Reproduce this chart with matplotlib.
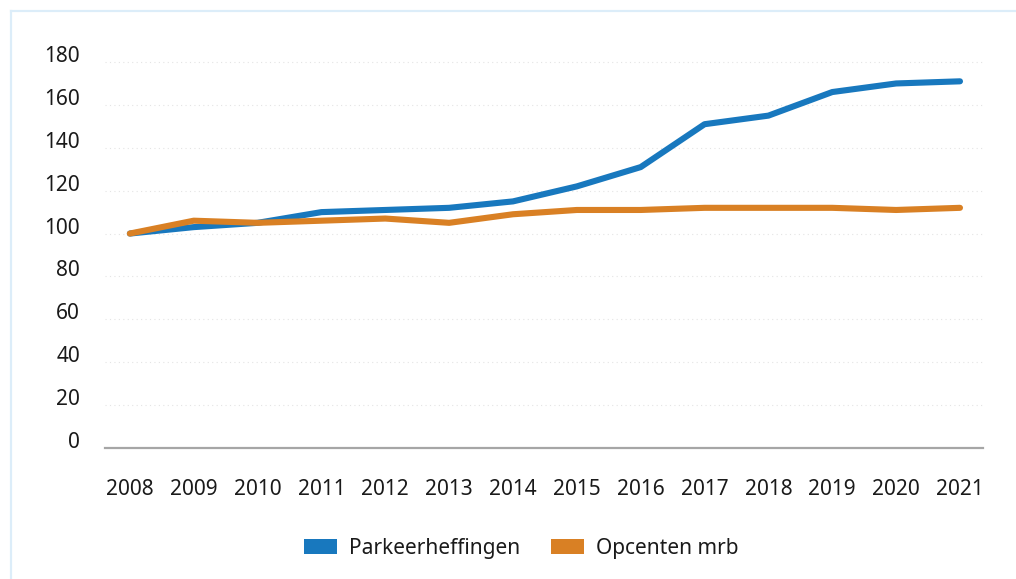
import matplotlib
matplotlib.use("Agg")
import matplotlib.pyplot as plt
from matplotlib.lines import Line2D
from matplotlib.patches import Patch

years = [2008, 2009, 2010, 2011, 2012, 2013, 2014, 2015, 2016, 2017, 2018, 2019, 2020, 2021]
parkeerheffingen = [100, 103, 105, 110, 111, 112, 115, 122, 131, 151, 155, 166, 170, 171]
opcenten_mrb = [100, 106, 105, 106, 107, 105, 109, 111, 111, 112, 112, 112, 111, 112]
y_ticks = [0, 20, 40, 60, 80, 100, 120, 140, 160, 180]

BLUE = "#1878be"
ORANGE = "#d98024"
TEXT = "#1a1a1a"

plt.rcParams["font.family"] = ["Noto Sans", "DejaVu Sans"]

fig = plt.figure(figsize=(10.16, 5.79), dpi=100, facecolor="white")

# light blue frame, top and left edge
border = "#dcedf9"
fig.add_artist(Line2D([11 / 1016, 11 / 1016], [0, 1 - 11 / 579], color=border, lw=1.6))
fig.add_artist(Line2D([11 / 1016, 1], [1 - 11 / 579, 1 - 11 / 579], color=border, lw=1.6))

ax = fig.add_axes([0.1033, 0.2263, 0.8642, 0.6851])
ax.plot(years, parkeerheffingen, color=BLUE, lw=4.4, solid_capstyle="round",
        solid_joinstyle="round", zorder=3)
ax.plot(years, opcenten_mrb, color=ORANGE, lw=4.4, solid_capstyle="round",
        solid_joinstyle="round", zorder=4)

ax.set_xlim(2008 - 0.39, 2021 + 0.36)
ax.set_ylim(0, 185)
ax.set_yticks(y_ticks)
ax.set_xticks(years)
ax.set_xticklabels([str(y) for y in years])

for side in ("top", "right", "left"):
    ax.spines[side].set_visible(False)
ax.spines["bottom"].set_color("#a6a6a6")
ax.spines["bottom"].set_linewidth(1.6)

ax.yaxis.grid(True, color="#e4e4e4", linestyle=(0, (1, 3)), linewidth=0.8)
ax.set_axisbelow(True)
ax.tick_params(axis="both", length=0, labelsize=15, labelcolor=TEXT)
ax.tick_params(axis="y", pad=18)
ax.tick_params(axis="x", pad=22)
for lbl in ax.get_yticklabels():
    lbl.set_verticalalignment("baseline")

handles = [Patch(facecolor=BLUE, edgecolor="none", label="Parkeerheffingen"),
           Patch(facecolor=ORANGE, edgecolor="none", label="Opcenten mrb")]
fig.legend(handles=handles, loc="center", bbox_to_anchor=(0.513, 0.0535), ncol=2,
           frameon=False, fontsize=15, handlelength=1.6, handleheight=0.77,
           handletextpad=0.58, columnspacing=1.44, labelcolor=TEXT)

fig.savefig("out.png", dpi=100, facecolor="white")
